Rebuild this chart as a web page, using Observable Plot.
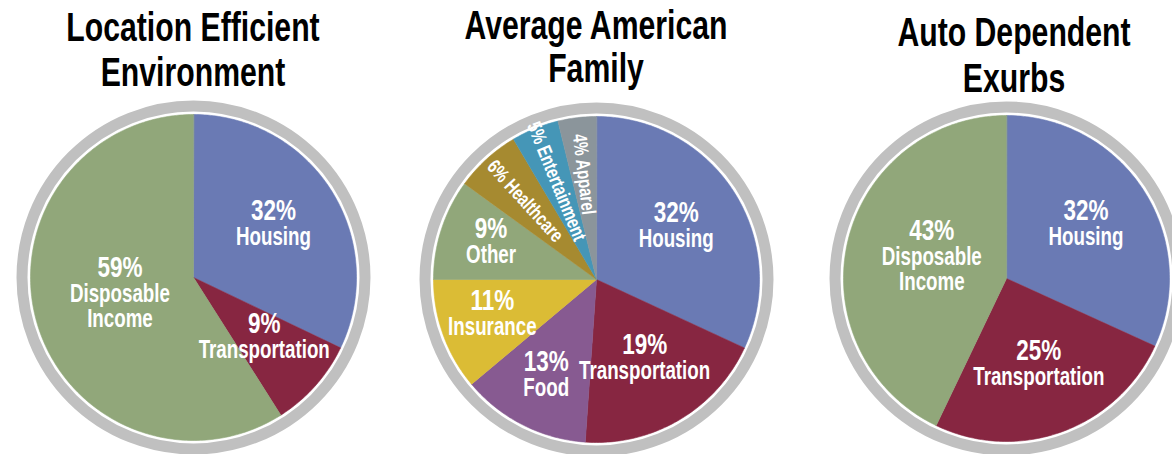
<!DOCTYPE html>
<html><head><meta charset="utf-8">
<script src="https://cdn.jsdelivr.net/npm/d3@7"></script>
<script src="https://cdn.jsdelivr.net/npm/@observablehq/plot@0.6"></script>
<style>
html,body{margin:0;padding:0;background:#fff;overflow:hidden;width:1172px;height:454px}
#row{display:flex;width:1220px}
.panel{flex:none}
.title{height:96px;box-sizing:border-box;text-align:center;white-space:nowrap;
  font-family:"Liberation Sans",Arial,sans-serif;font-weight:bold;font-size:40px;color:#000}
.title span{display:block;transform:scaleX(0.755);transform-origin:center}
.panel svg{display:block;overflow:visible}
</style></head><body><div id="row"></div>
<script>
// ---- data ----
const chartTitles = [["Location Efficient", "Environment"], ["Average American", "Family"], ["Auto Dependent", "Exurbs"]];

const locCategories = ["Housing", "Transportation", "Disposable\nIncome"];
const locShares = [32.1, 8.9, 59.0];
const locLabels = ["32%", "9%", "59%"];

const avgCategories = ["Housing", "Transportation", "Food", "Insurance", "Other", "Healthcare", "Entertainment", "Apparel"];
const avgShares = [31.9, 19.2, 12.8, 11.1, 10.0, 6.5, 4.7, 3.8];
const avgLabels = ["32%", "19%", "13%", "11%", "9%", "6%", "5%", "4%"];

const autoCategories = ["Housing", "Transportation", "Disposable\nIncome"];
const autoShares = [31.8, 25.3, 42.9];
const autoLabels = ["32%", "25%", "43%"];

// ---- styles ----
const colors = {
  "Housing": "#6a7ab4", "Transportation": "#872641", "Disposable\nIncome": "#91a77a",
  "Food": "#875a91", "Insurance": "#dbbc35", "Other": "#91a77a",
  "Healthcare": "#a68a30", "Entertainment": "#4596b7", "Apparel": "#8b959b"
};
const FONT = '"Liberation Sans",Arial,sans-serif';
const SX = 0.75; // horizontal condensing of text
const R = 163;
const TITLE_H = 96;
const SVG_H = 454 - TITLE_H;
const panels = [
  {cats: locCategories, shares: locShares, pcts: locLabels, width: 386, cy: 181, pad: 5, lh: 45, shift: 0},
  {cats: avgCategories, shares: avgShares, pcts: avgLabels, width: 420, cy: 183, pad: 4, lh: 43, shift: 0},
  {cats: autoCategories, shares: autoShares, pcts: autoLabels, width: 400, cy: 182, pad: 9, lh: 46, shift: 16}
];

function pieChart(p) {
  const {cats, shares, pcts, width, cy} = p;
  const arcs = d3.pie().sort(null).value(d => d)(shares);
  const total = d3.sum(shares);
  const n = shares.length;
  const wedges = [];
  arcs.forEach((a, i) => {
    const color = colors[cats[i]];
    wedges.push({slice: i, x: 0, y: 0, color});
    const steps = Math.max(2, Math.ceil((a.endAngle - a.startAngle) / (Math.PI / 180)));
    for (let k = 0; k <= steps; k++) {
      const t = a.startAngle + (a.endAngle - a.startAngle) * k / steps;
      wedges.push({slice: i, x: Math.sin(t), y: Math.cos(t), color});
    }
  });
  const flat = [], blocks = [];
  const LIFT = 1.5 / R; // small upward nudge of label blocks
  arcs.forEach((a, i) => {
    const share = shares[i] / total;
    const mid = (a.startAngle + a.endAngle) / 2;
    if (share < 0.08) {
      const f = 0.65;
      flat.push({x: f * Math.sin(mid), y: f * Math.cos(mid), text: pcts[i] + " " + cats[i], rotate: mid * 180 / Math.PI - 270});
      return;
    }
    const f = share > 0.4 ? 0.47 : (n > 3 && share < 0.15 ? 0.68 : 0.58);
    blocks.push({x: f * Math.sin(mid), y: f * Math.cos(mid) + LIFT, text: pcts[i] + "\n" + cats[i]});
  });
  const svg = Plot.plot({
    width, height: SVG_H, margin: 0,
    x: {domain: [-1, 1], range: [width / 2 - R, width / 2 + R], axis: null},
    y: {domain: [-1, 1], range: [cy + R, cy - R], axis: null},
    color: {type: "identity"},
    style: {fontFamily: FONT, background: "transparent", overflow: "visible"},
    marks: [
      Plot.dot([{x: 0, y: 0}], {x: "x", y: "y", r: R + 8.5, stroke: "#c0c0c0", strokeWidth: 11, fill: "white"}),
      Plot.line(wedges, {x: "x", y: "y", z: "slice", fill: "color", stroke: "color", strokeWidth: 0.6, curve: "linear-closed"}),
      Plot.text(blocks, {x: "x", y: "y", text: "text", fill: "white", fontSize: 25, fontWeight: "bold", textAnchor: "middle", lineAnchor: "middle", lineHeight: 1.0}),
      Plot.text(flat, {x: "x", y: "y", text: "text", rotate: "rotate", fill: "white", fontSize: 20, fontWeight: "bold", textAnchor: "middle", lineAnchor: "middle"})
    ]
  });
  svg.querySelectorAll("text").forEach(el => {
    // percentage line is set larger than the category line(s)
    const spans = el.querySelectorAll("tspan");
    if (spans.length > 1) spans[0].setAttribute("font-size", "30");
    // condense text horizontally (the reference uses a narrow typeface)
    const tr = el.getAttribute("transform");
    if (tr) {
      el.setAttribute("transform", tr + ` scale(${SX},1)`);
    } else {
      const x = parseFloat(el.getAttribute("x")) || 0, y = parseFloat(el.getAttribute("y")) || 0;
      el.setAttribute("transform", `translate(${x},${y}) scale(${SX},1) translate(${-x},${-y})`);
    }
  });
  return svg;
}

const row = document.getElementById("row");
panels.forEach((p, i) => {
  const div = document.createElement("div");
  div.className = "panel";
  div.style.width = p.width + "px";
  const t = document.createElement("div");
  t.className = "title";
  t.style.paddingTop = p.pad + "px";
  t.style.paddingLeft = p.shift + "px";
  t.style.lineHeight = p.lh + "px";
  chartTitles[i].forEach(line => {
    const s = document.createElement("span");
    s.textContent = line;
    t.appendChild(s);
  });
  div.appendChild(t);
  div.appendChild(pieChart(p));
  row.appendChild(div);
});
</script>
</body></html>
